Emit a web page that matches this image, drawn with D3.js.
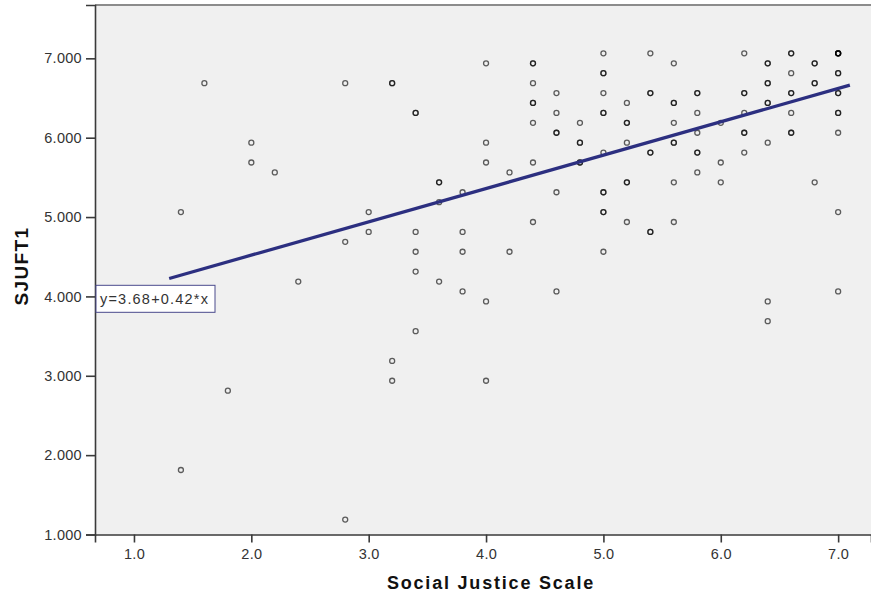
<!DOCTYPE html>
<html>
<head>
<meta charset="utf-8">
<script src="https://cdn.jsdelivr.net/npm/d3@7"></script>
<style>
  body { margin: 0; background: #ffffff; }
  svg { display: block; font-family: "Liberation Sans", Arial, sans-serif; }
</style>
</head>
<body>
<div id="chart"></div>
<script>
// Social Justice Scale values (x), one entry per case. Repeated pairs are overlapping cases.
const sjsValues = [
  1.4, 1.4,
  1.6,
  1.8,
  2.0, 2.0,
  2.2,
  2.4,
  2.8, 2.8, 2.8,
  3.0, 3.0,
  3.2, 3.2, 3.2, 3.2,
  3.4, 3.4, 3.4, 3.4, 3.4, 3.4,
  3.6, 3.6, 3.6, 3.6,
  3.8, 3.8, 3.8, 3.8,
  4.0, 4.0, 4.0, 4.0, 4.0,
  4.2, 4.2,
  4.4, 4.4, 4.4, 4.4, 4.4, 4.4, 4.4, 4.4,
  4.6, 4.6, 4.6, 4.6, 4.6, 4.6,
  4.8, 4.8, 4.8, 4.8, 4.8,
  5.0, 5.0, 5.0, 5.0, 5.0, 5.0, 5.0, 5.0, 5.0, 5.0, 5.0, 5.0,
  5.2, 5.2, 5.2, 5.2, 5.2, 5.2, 5.2,
  5.4, 5.4, 5.4, 5.4, 5.4, 5.4, 5.4,
  5.6, 5.6, 5.6, 5.6, 5.6, 5.6, 5.6, 5.6,
  5.8, 5.8, 5.8, 5.8, 5.8, 5.8, 5.8,
  6.0, 6.0, 6.0,
  6.2, 6.2, 6.2, 6.2, 6.2, 6.2, 6.2,
  6.4, 6.4, 6.4, 6.4, 6.4, 6.4, 6.4, 6.4, 6.4,
  6.6, 6.6, 6.6, 6.6, 6.6, 6.6, 6.6, 6.6,
  6.8, 6.8, 6.8, 6.8, 6.8,
  7.0, 7.0, 7.0, 7.0, 7.0, 7.0, 7.0, 7.0, 7.0, 7.0, 7.0, 7.0, 7.0, 7.0
];

// SJUFT1 values (y), same order as sjsValues.
const sjuft1Values = [
  5.0625, 1.8125,
  6.6875,
  2.8125,
  5.9375, 5.6875,
  5.5625,
  4.1875,
  6.6875, 4.6875, 1.1875,
  5.0625, 4.8125,
  6.6875, 6.6875, 3.1875, 2.9375,
  6.3125, 6.3125, 4.8125, 4.5625, 4.3125, 3.5625,
  5.4375, 5.4375, 5.1875, 4.1875,
  5.3125, 4.8125, 4.5625, 4.0625,
  6.9375, 5.9375, 5.6875, 3.9375, 2.9375,
  5.5625, 4.5625,
  6.9375, 6.9375, 6.6875, 6.4375, 6.4375, 6.1875, 5.6875, 4.9375,
  6.5625, 6.3125, 6.0625, 6.0625, 5.3125, 4.0625,
  6.1875, 5.9375, 5.9375, 5.6875, 5.6875,
  7.0625, 6.8125, 6.8125, 6.5625, 6.3125, 6.3125, 5.8125, 5.3125, 5.3125, 5.0625, 5.0625, 4.5625,
  6.4375, 6.1875, 6.1875, 5.9375, 5.4375, 5.4375, 4.9375,
  7.0625, 6.5625, 6.5625, 5.8125, 5.8125, 4.8125, 4.8125,
  6.9375, 6.4375, 6.4375, 6.1875, 5.9375, 5.9375, 5.4375, 4.9375,
  6.5625, 6.5625, 6.3125, 6.0625, 5.8125, 5.8125, 5.5625,
  6.1875, 5.6875, 5.4375,
  7.0625, 6.5625, 6.5625, 6.3125, 6.0625, 6.0625, 5.8125,
  6.9375, 6.9375, 6.6875, 6.6875, 6.4375, 6.4375, 5.9375, 3.9375, 3.6875,
  7.0625, 7.0625, 6.8125, 6.5625, 6.5625, 6.3125, 6.0625, 6.0625,
  6.9375, 6.9375, 6.6875, 6.6875, 5.4375,
  7.0625, 7.0625, 7.0625, 7.0625, 7.0625, 6.8125, 6.8125, 6.5625, 6.5625, 6.3125, 6.3125, 6.0625, 5.0625, 4.0625
];

// Tick values and fit line.
const xTickValues = [1, 2, 3, 4, 5, 6, 7];
const yTickValues = [1, 2, 3, 4, 5, 6, 7];
const fitIntercept = 3.68;
const fitSlope = 0.42;
const fitRange = [1.3, 7.1];

const width = 871;
const height = 596;

/**
 * SVG container.
 */
const svg = d3
  .select("#chart")
  .append("svg")
  .attr("width", width)
  .attr("height", height);

// Horizontal scale; the plot frame runs past 7.0 to the right edge.
const x = d3.scaleLinear().domain([0.668, 7.28]).range([95, 871]);

// Vertical scale.
const y = d3.scaleLinear().domain([1, 7.672]).range([534.5, 5]);

/**
 * Plot background.
 */
svg
  .append("rect")
  .attr("x", x.range()[0])
  .attr("y", y.range()[1])
  .attr("width", x.range()[1] - x.range()[0])
  .attr("height", y.range()[0] - y.range()[1])
  .attr("fill", "#f0f0f0");

// Top frame line.
svg
  .append("line")
  .attr("x1", x.range()[0])
  .attr("x2", x.range()[1])
  .attr("y1", y.range()[1])
  .attr("y2", y.range()[1])
  .attr("stroke", "#8c8c8c")
  .attr("stroke-width", 2);

/**
 * Axes.
 */
const xAxis = svg
  .append("g")
  .attr("transform", `translate(0, ${y.range()[0]})`)
  .call(
    d3
      .axisBottom(x)
      .tickValues(xTickValues)
      .tickFormat(d3.format(".1f"))
      .tickSize(8)
      .tickPadding(6)
  );

const yAxis = svg
  .append("g")
  .attr("transform", `translate(${x.range()[0]}, 0)`)
  .call(
    d3
      .axisLeft(y)
      .tickValues(yTickValues)
      .tickFormat(d3.format(".3f"))
      .tickSize(9)
      .tickPadding(4)
  );

[xAxis, yAxis].forEach((axis) => {
  axis.select(".domain").attr("stroke", "#3a3a3a").attr("stroke-width", 1.6);
  axis.selectAll(".tick line").attr("stroke", "#3a3a3a").attr("stroke-width", 1.6);
  axis
    .selectAll(".tick text")
    .attr("fill", "#333333")
    .style("font-size", "14.5px")
    .style("letter-spacing", "0.3px");
});

// Axis titles.
svg
  .append("text")
  .attr("x", 491)
  .attr("y", 589)
  .attr("text-anchor", "middle")
  .attr("font-weight", "bold")
  .attr("font-size", 18)
  .attr("letter-spacing", "1.8px")
  .attr("fill", "#111111")
  .text("Social Justice Scale");

svg
  .append("text")
  .attr("transform", "translate(28, 266) rotate(-90)")
  .attr("text-anchor", "middle")
  .attr("font-weight", "bold")
  .attr("font-size", 19)
  .attr("letter-spacing", "1.4px")
  .attr("fill", "#111111")
  .text("SJUFT1");

/**
 * Data points.
 */
const points = sjsValues.map((v, i) => ({ sjs: v, sjuft1: sjuft1Values[i] }));

svg
  .append("g")
  .selectAll("circle")
  .data(points)
  .join("circle")
  .attr("cx", (d) => x(d.sjs))
  .attr("cy", (d) => y(d.sjuft1))
  .attr("r", 2.5)
  .attr("fill", "none")
  .attr("stroke", "#000000")
  .attr("stroke-opacity", 0.62)
  .attr("stroke-width", 1.3);

/**
 * Fit line.
 */
svg
  .append("line")
  .attr("x1", x(fitRange[0]))
  .attr("y1", y(fitIntercept + fitSlope * fitRange[0]))
  .attr("x2", x(fitRange[1]))
  .attr("y2", y(fitIntercept + fitSlope * fitRange[1]))
  .attr("stroke", "#2c2f80")
  .attr("stroke-width", 3.3);

// Equation label.
const label = svg.append("g").attr("transform", `translate(${x.range()[0] + 1}, ${y(4.14)})`);

label
  .append("rect")
  .attr("width", 119)
  .attr("height", 27)
  .attr("fill", "#ffffff")
  .attr("stroke", "#4a4a8c")
  .attr("stroke-width", 1);

label
  .append("text")
  .attr("x", 4)
  .attr("y", 19)
  .attr("font-size", 14.5)
  .attr("letter-spacing", "1.2px")
  .attr("fill", "#333333")
  .text(`y=${fitIntercept.toFixed(2)}+${fitSlope.toFixed(2)}*x`);
</script>
</body>
</html>
